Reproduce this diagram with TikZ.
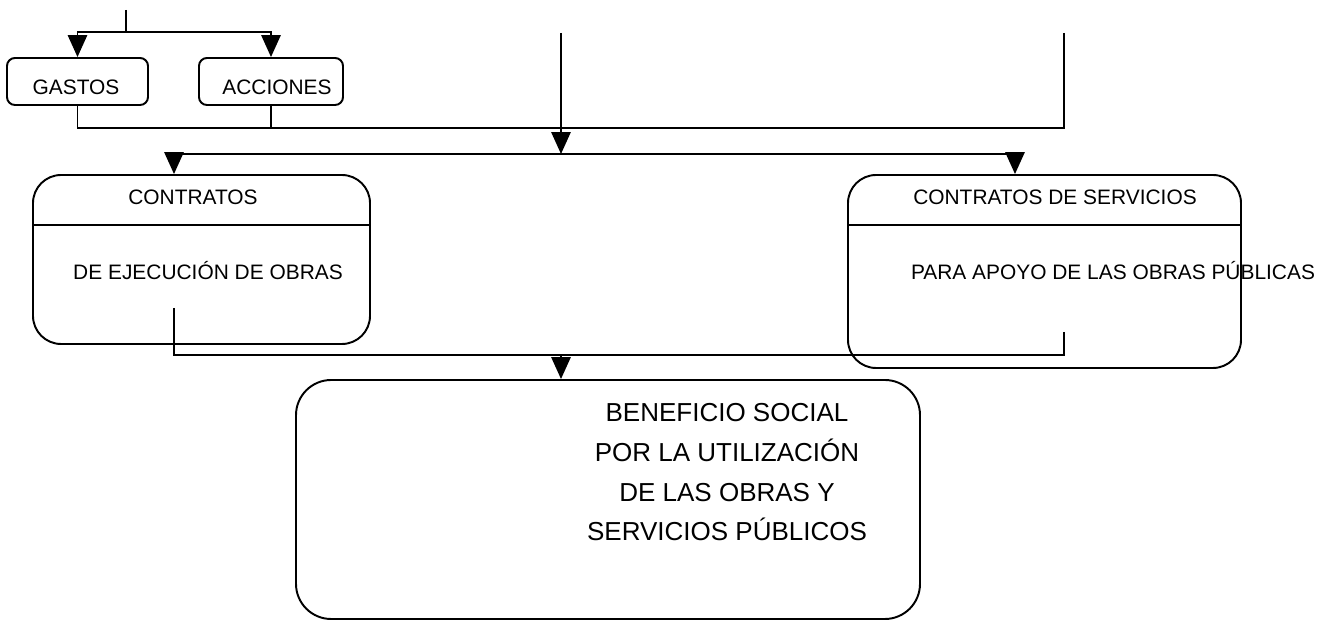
\documentclass[tikz,border=0pt]{standalone}
\usepackage{fontspec}
\setmainfont{Liberation Sans}
\usetikzlibrary{arrows.meta,calc}
\newcommand{\pix}{0.02cm}
\tikzset{
  caja/.style={draw,line width=1.1pt,rounded corners=#1,inner sep=0pt},
  linea/.style={line width=1.1pt},
  flecha/.style={line width=1.1pt,-{Triangle[width=11pt,length=12.5pt]}},
  rotulo/.style={font=\fontsize{11.9}{14}\selectfont,inner sep=0pt,anchor=base},
  lema/.style={font=\fontsize{14.8}{18}\selectfont,inner sep=0pt,anchor=base}
}
\begin{document}
\begin{tikzpicture}[x=0.02cm,y=-0.02cm]
  \useasboundingbox (0,0) rectangle (1320,621);
  % cajas
  \node[caja=4.5pt,minimum width=141*\pix,minimum height=47*\pix] (gastos) at (77.5,81.5) {};
  \node[caja=4.5pt,minimum width=144*\pix,minimum height=47*\pix] (acciones) at (271,81.5) {};
  \node[caja=16pt,minimum width=337*\pix,minimum height=169*\pix] (obras) at (201.5,259.5) {};
  \node[caja=16pt,minimum width=393*\pix,minimum height=193*\pix] (servicios) at (1044.5,271.5) {};
  \node[caja=20pt,minimum width=624*\pix,minimum height=239*\pix] (beneficio) at (608,499.5) {};
  \draw[linea] ($(obras.west)+(0,-34.5)$) -- ($(obras.east)+(0,-34.5)$);
  \draw[linea] ($(servicios.west)+(0,-46.5)$) -- ($(servicios.east)+(0,-46.5)$);
  % textos
  \node[rotulo] (tgastos) at (76,95) {GASTOS};
  \node[rotulo] (tacciones) at (277,95) {ACCIONES};
  \node[rotulo] (tobras) at (193,205) {CONTRATOS};
  \node[rotulo] (tejecucion) at (208,280) {DE EJECUCIÓN DE OBRAS};
  \node[rotulo] (tservicios) at (1055,205) {CONTRATOS DE SERVICIOS};
  \node[rotulo] (tapoyo) at (1113,280) {PARA APOYO DE LAS OBRAS PÚBLICAS};
  \node[lema] (b1) at (727,422) {BENEFICIO SOCIAL};
  \node[lema] (b2) at (727,462) {POR LA UTILIZACIÓN};
  \node[lema] (b3) at (727,502) {DE LAS OBRAS Y};
  \node[lema] (b4) at (727,541) {SERVICIOS PÚBLICOS};
  % conexiones de arriba
  \coordinate (entrada) at (126,10);
  \coordinate (reparto) at (126,32);
  \draw[linea] (entrada) -- (reparto);
  \draw[flecha] (reparto) -| (gastos.north);
  \draw[flecha] (reparto) -| (acciones.north);
  \coordinate (centro) at (561,33);
  \coordinate (derecha) at (1064,33);
  \coordinate (bus) at (561,128);
  \coordinate (reparto2) at (561,154);
  \draw[linea] (gastos.south) |- (bus);
  \draw[linea] (acciones.south) |- (bus);
  \draw[linea] (centro) -- (bus);
  \draw[linea] (derecha) |- (bus);
  \draw[flecha] (bus) -- (reparto2);
  \draw[flecha] (reparto2) -| ($(obras.north)+(-27.5,0)$);
  \draw[flecha] (reparto2) -| ($(servicios.north)+(-29.5,0)$);
  % conexiones de abajo
  \coordinate (salida1) at (174,308);
  \coordinate (salida2) at (1064,332);
  \coordinate (union) at (561,355);
  \draw[linea] (salida1) |- (union);
  \draw[linea] (salida2) |- (union);
  \draw[flecha] (union) -- (union |- beneficio.north);
\end{tikzpicture}
\end{document}
